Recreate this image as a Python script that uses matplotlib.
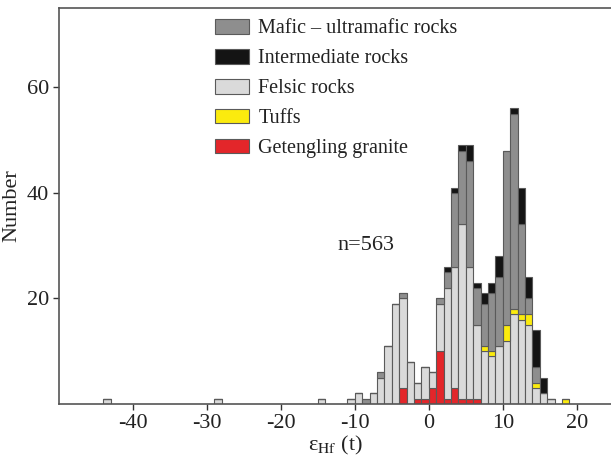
import numpy as np
import matplotlib
matplotlib.use('Agg')
import matplotlib.pyplot as plt
from matplotlib.patches import Patch

plt.rcParams['font.family'] = ['Liberation Serif', 'DejaVu Serif']
plt.rcParams['mathtext.fontset'] = 'stix'
plt.rcParams['axes.unicode_minus'] = False

# bin left edges (bin width = 1 epsilon unit)
bins = [-44, -29, -15, -11, -10, -9, -8, -7, -6, -5, -4, -3, -2, -1, 0, 1, 2,
        3, 4, 5, 6, 7, 8, 9, 10, 11, 12, 13, 14, 15, 16, 18]

# counts per group, stacked bottom -> top
getengling = [0, 0, 0, 0, 0, 0, 0, 0, 0, 0, 3, 0, 1, 1, 3, 10, 1,
              3, 1, 1, 1, 0, 0, 0, 0, 0, 0, 0, 0, 0, 0, 0]
felsic = [1, 1, 1, 1, 2, 0, 2, 5, 11, 19, 17, 8, 3, 6, 3, 9, 21,
          23, 33, 25, 14, 10, 9, 11, 12, 17, 16, 15, 3, 2, 1, 0]
tuffs = [0, 0, 0, 0, 0, 0, 0, 0, 0, 0, 0, 0, 0, 0, 0, 0, 0,
         0, 0, 0, 0, 1, 1, 0, 3, 1, 1, 2, 1, 0, 0, 1]
mafic = [0, 0, 0, 0, 0, 1, 0, 1, 0, 0, 1, 0, 0, 0, 0, 1, 3,
         14, 14, 20, 7, 8, 11, 13, 33, 37, 17, 3, 3, 0, 0, 0]
intermediate = [0, 0, 0, 0, 0, 0, 0, 0, 0, 0, 0, 0, 0, 0, 0, 0, 1,
                1, 1, 3, 1, 2, 2, 4, 0, 1, 7, 4, 7, 3, 0, 0]

groups = [
    ('Getengling granite', getengling, '#e3262a'),
    ('Felsic rocks', felsic, '#dadada'),
    ('Tuffs', tuffs, '#fbeb0e'),
    ('Mafic – ultramafic rocks', mafic, '#8e8e8e'),
    ('Intermediate rocks', intermediate, '#141414'),
]

fig = plt.figure(figsize=(6.11, 4.58), dpi=100)
ax = fig.add_axes([59 / 611, 1 - 404 / 458, 1 - 59 / 611, (404 - 8) / 458])

x = np.array(bins, dtype=float)
bottom = np.zeros(len(bins))
for name, vals, col in groups:
    vals = np.array(vals, dtype=float)
    ax.bar(x, vals, width=1.0, bottom=bottom, align='edge', color=col,
           edgecolor='#5a5a5a', linewidth=0.8, zorder=2)
    bottom += vals

ax.set_xlim(-50, (611 - 428.7) / 7.4)
ax.set_ylim(0, 75)
ax.set_xticks([-40, -30, -20, -10, 0, 10, 20])
ax.set_yticks([20, 40, 60])
ax.tick_params(direction='out', length=4, width=1.0, colors='#333333',
               labelsize=16, labelcolor='#222222', pad=3)
for s in ['left', 'bottom', 'top']:
    ax.spines[s].set_color('#555555')
    ax.spines[s].set_linewidth(1.2)
ax.spines['right'].set_visible(False)

ax.set_ylabel('Number', fontsize=16, color='#222222', labelpad=4)
ax.set_xlabel(r'ε$_{\mathrm{Hf}}$ (t)', fontsize=16,
              color='#222222', labelpad=1)

ax.text(-12.3, 30, 'n=563', fontsize=16, color='#222222', va='center')

order = [3, 4, 1, 2, 0]
handles = [Patch(facecolor=groups[i][2], edgecolor='#5a5a5a', linewidth=0.8)
           for i in order]
labels = [groups[i][0] for i in order]
leg = fig.legend(handles, labels, loc='upper left',
                 bbox_to_anchor=(207 / 611, 1 - 11 / 458), frameon=False,
                 fontsize=14.5, handlelength=1.7, handleheight=0.75,
                 handletextpad=0.45, labelspacing=0.52, borderaxespad=0)
for t in leg.get_texts():
    t.set_color('#222222')

fig.savefig('out.png', dpi=100)
